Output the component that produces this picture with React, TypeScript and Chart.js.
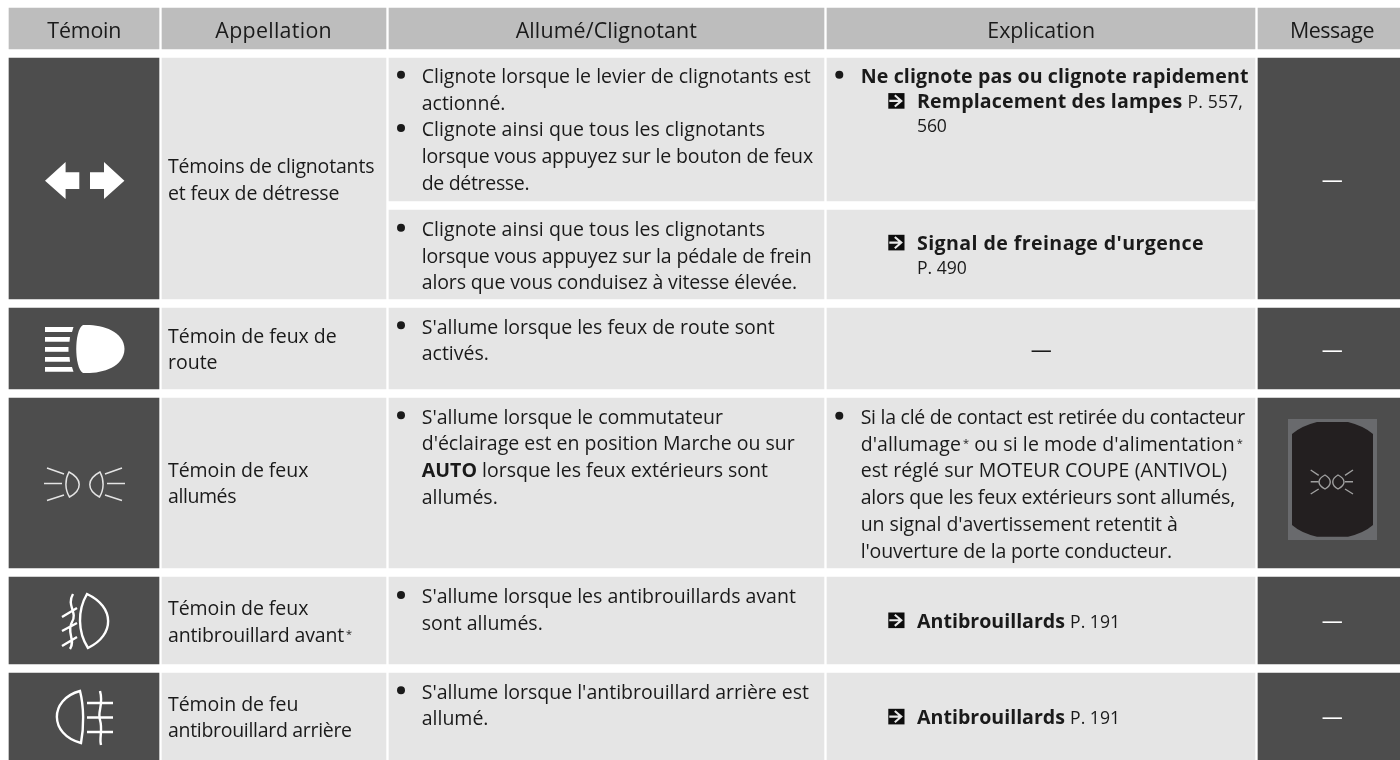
import React, { useEffect, useRef } from "react";
import { Chart, registerables } from "chart.js";

Chart.register(...registerables);

const FONT = '"Open Sans"';
const TEXT = "#1a1a1a";
const HEAD_BG = "#bdbdbd";
const LIGHT_BG = "#e5e5e5";
const DARK_BG = "#4d4d4d";

// Table content
const headers = ["Témoin", "Appellation", "Allumé/Clignotant", "Explication", "Message"];
const appellationTexts = [
  ["Témoins de clignotants", "et feux de détresse"],
  ["Témoin de feux de", "route"],
  ["Témoin de feux", "allumés"],
  ["Témoin de feux", "antibrouillard avant^*"],
  ["Témoin de feu", "antibrouillard arrière"],
];
const allumeTexts = [
  [["Clignote lorsque le levier de clignotants est", "actionné."], ["Clignote ainsi que tous les clignotants", "lorsque vous appuyez sur le bouton de feux", "de détresse."]],
  [["Clignote ainsi que tous les clignotants", "lorsque vous appuyez sur la pédale de frein", "alors que vous conduisez à vitesse élevée."]],
  [["S'allume lorsque les feux de route sont", "activés."]],
  [["S'allume lorsque le commutateur", "d'éclairage est en position Marche ou sur", "**AUTO** lorsque les feux extérieurs sont", "allumés."]],
  [["S'allume lorsque les antibrouillards avant", "sont allumés."]],
  [["S'allume lorsque l'antibrouillard arrière est", "allumé."]],
];
const explicationWarning = "**Ne clignote pas ou clignote rapidement**";
const explicationRefs = [
  ["**Remplacement des lampes** ~P. 557,~", "~560~"],
  ["**Signal de freinage d'urgence**", "~P. 490~"],
  ["**Antibrouillards** ~P. 191~"],
  ["**Antibrouillards** ~P. 191~"],
];
const explicationContact = [
  "Si la clé de contact est retirée du contacteur",
  "d'allumage^* ou si le mode d'alimentation^*",
  "est réglé sur MOTEUR COUPE (ANTIVOL)",
  "alors que les feux extérieurs sont allumés,",
  "un signal d'avertissement retentit à",
  "l'ouverture de la porte conducteur.",
];
const DASH = "—";

// Layout of the grid, in the 1400 x 760 axis units
const cols = [[9, 159], [162, 386], [389, 824], [827, 1255], [1258, 1400]];
const HEAD = [8, 49];
const R1 = [58, 299];
const R1A = [58, 201];
const R1B = [210, 299];
const R2 = [308, 389];
const R3 = [398, 568];
const R4 = [577, 664];
const R5 = [673, 760];
const NOTCH = [201, 210];

const cells: [number[], number[], string][] = [
  ...cols.map((c) => [c, HEAD, HEAD_BG] as [number[], number[], string]),
  ...[R1, R2, R3, R4, R5].flatMap((r) => [
    [cols[0], r, DARK_BG],
    [cols[1], r, LIGHT_BG],
    [cols[4], r, DARK_BG],
  ] as [number[], number[], string][]),
  [cols[2], R1A, LIGHT_BG], [cols[2], R1B, LIGHT_BG],
  [cols[3], R1A, LIGHT_BG], [cols[3], R1B, LIGHT_BG],
  ...[R2, R3, R4, R5].flatMap((r) => [
    [cols[2], r, LIGHT_BG],
    [cols[3], r, LIGHT_BG],
  ] as [number[], number[], string][]),
  [[1255, 1259], NOTCH, "#ffffff"],
];

const SIZE = 19.5;
const HEAD_SIZE = 21.4;
const BOLD = 19.6;
const SMALL = 17.6;
const LH = 26.7;

// Right edge of lines whose set width differs from the substitute font's
const lineEnds: Record<string, number> = {
  "Témoin": 121.3, "Appellation": 332, "Allumé/Clignotant": 697, "Explication": 1095, "Message": 1374,
  "Témoins de clignotants": 374.3, "et feux de détresse": 339.3, "Témoin de feux de": 336.7,
  "Témoin de feux": 308.3, "allumés": 236, "Témoin de feu": 298.3, "antibrouillard arrière": 351.7,
  "antibrouillard avant^*": 352,
  "Clignote lorsque le levier de clignotants est": 810.7,
  "Clignote ainsi que tous les clignotants": 765, "lorsque vous appuyez sur le bouton de feux": 813,
  "de détresse.": 529.3, "lorsque vous appuyez sur la pédale de frein": 811.5,
  "alors que vous conduisez à vitesse élevée.": 797,
  "Si la clé de contact est retirée du contacteur": 1245, "d'allumage^* ou si le mode d'alimentation^*": 1243,
  "est réglé sur MOTEUR COUPE (ANTIVOL)": 1227, "alors que les feux extérieurs sont allumés,": 1235,
  "un signal d'avertissement retentit à": 1177.7, "l'ouverture de la porte conducteur.": 1172,
  "**Ne clignote pas ou clignote rapidement**": 1248.5, "**Remplacement des lampes** ~P. 557,~": 1243,
  "**Signal de freinage d'urgence**": 1204, "**Antibrouillards** ~P. 191~": 1120,
  "~P. 490~": 966.7, "~560~": 946.7,
};

function parseRuns(str: string, size: number) {
  const re = /\*\*(.+?)\*\*|~(.+?)~|\^\*|([^*~^]+)/g;
  const runs: { text: string; font: string; dy: number; gap: number }[] = [];
  let m: RegExpExecArray | null;
  while ((m = re.exec(str))) {
    if (m[1]) runs.push({ text: m[1], font: `700 ${BOLD}px ${FONT}`, dy: 0, gap: 0 });
    else if (m[2]) runs.push({ text: m[2], font: `${SMALL}px ${FONT}`, dy: 0, gap: 0 });
    else if (m[0] === "^*") runs.push({ text: "*", font: `11px ${FONT}`, dy: -4, gap: 2 });
    else runs.push({ text: m[3], font: `${size}px ${FONT}`, dy: 0, gap: 0 });
  }
  return runs;
}

function drawRuns(ctx: CanvasRenderingContext2D, str: string, x: number, y: number, size = SIZE) {
  const runs = parseRuns(str, size);
  const c = ctx as any;
  c.letterSpacing = "0px";
  const end = lineEnds[str];
  if (end !== undefined) {
    let natural = 0;
    let count = 0;
    runs.forEach((r) => {
      ctx.font = r.font;
      natural += ctx.measureText(r.text).width + r.gap;
      count += r.text.length;
    });
    c.letterSpacing = `${(end - x - natural) / count}px`;
  }
  let cx = x;
  runs.forEach((r) => {
    ctx.font = r.font;
    cx += r.gap;
    ctx.fillText(r.text, cx, y + r.dy);
    cx += ctx.measureText(r.text).width;
  });
  c.letterSpacing = "0px";
}

function refIcon(ctx: CanvasRenderingContext2D, x: number, baseline: number) {
  ctx.fillStyle = "#0d0d0d";
  ctx.fillRect(x, baseline - 15.2, 16.2, 15.6);
  ctx.strokeStyle = "#e8e8e8";
  ctx.lineWidth = 2.1;
  ctx.beginPath();
  ctx.moveTo(x + 1, baseline - 7.4); ctx.lineTo(x + 12.5, baseline - 7.4);
  ctx.moveTo(x + 6.5, baseline - 13); ctx.lineTo(x + 13, baseline - 7.4); ctx.lineTo(x + 6.5, baseline - 1.8);
  ctx.stroke();
  ctx.fillStyle = TEXT;
}

function poly(ctx: CanvasRenderingContext2D, pts: number[][]) {
  ctx.beginPath();
  pts.forEach((p, i) => (i ? ctx.lineTo(p[0], p[1]) : ctx.moveTo(p[0], p[1])));
  ctx.closePath();
  ctx.fill();
}

function lens(ctx: CanvasRenderingContext2D, xTop: number, yTop: number, xBot: number, yBot: number, flatX: number, bulgeX: number, t = 0.28) {
  const h = yBot - yTop;
  ctx.beginPath();
  ctx.moveTo(xTop, yTop);
  ctx.bezierCurveTo(bulgeX, yTop + h * t, bulgeX, yBot - h * t, xBot, yBot);
  ctx.bezierCurveTo(flatX, yBot - h * 0.3, flatX, yTop + h * 0.3, xTop, yTop);
  ctx.closePath();
  ctx.stroke();
}

function drawIcons(ctx: CanvasRenderingContext2D) {
  ctx.save();
  ctx.fillStyle = "#fff";
  // turn arrows
  poly(ctx, [[45, 180.7], [65.6, 162], [65.6, 172.3], [79.3, 172.3], [79.3, 189], [65.6, 189], [65.6, 199]]);
  poly(ctx, [[124.4, 180.7], [104, 162], [104, 172.3], [90, 172.3], [90, 189], [104, 189], [104, 199]]);
  // high beam
  poly(ctx, [[45, 327], [73.5, 327], [72, 332], [45, 332]]);
  poly(ctx, [[45, 337], [70, 337], [69.5, 341.8], [45, 341.8]]);
  poly(ctx, [[45, 347], [68.5, 347], [68.5, 351.8], [45, 351.8]]);
  poly(ctx, [[45, 357], [69.5, 357], [70, 361.8], [45, 361.8]]);
  poly(ctx, [[45, 367], [72, 367], [73.5, 371.8], [45, 371.8]]);
  ctx.beginPath();
  ctx.moveTo(83, 325);
  ctx.bezierCurveTo(100, 324, 124, 330, 124.5, 349);
  ctx.bezierCurveTo(124, 368, 100, 374, 83, 373);
  ctx.bezierCurveTo(74, 368, 74, 330, 83, 325);
  ctx.closePath();
  ctx.fill();
  // position lights
  ctx.strokeStyle = "#e4e4e4";
  ctx.lineWidth = 1.5;
  lens(ctx, 69, 472, 69.5, 497, 64.8, 82.5);
  lens(ctx, 100, 472, 99.5, 497, 104.2, 86.5);
  ctx.beginPath();
  [[47, 468, 64, 474], [44, 483.5, 62, 483.5], [47, 500.5, 64, 495], [122, 468, 105, 474], [125, 483.5, 107, 483.5], [122, 500.5, 105, 495]].forEach((l) => {
    ctx.moveTo(l[0], l[1]); ctx.lineTo(l[2], l[3]);
  });
  ctx.stroke();
  // front fog
  ctx.strokeStyle = "#fff";
  ctx.lineWidth = 2.4;
  lens(ctx, 87, 594, 88, 648, 77.5, 115, 0.24);
  ctx.beginPath();
  ctx.moveTo(73, 594); ctx.bezierCurveTo(66, 606, 78, 612, 72, 622); ctx.bezierCurveTo(66, 632, 76, 640, 70, 649);
  [[62, 617, 77, 608], [62, 631, 77, 623], [62, 646, 77, 637]].forEach((l) => {
    ctx.moveTo(l[0], l[1]); ctx.lineTo(l[2], l[3]);
  });
  ctx.stroke();
  // rear fog
  lens(ctx, 80, 691, 81, 743, 84, 49, 0.16);
  ctx.beginPath();
  ctx.moveTo(100, 691); ctx.bezierCurveTo(104, 705, 97, 712, 100, 720); ctx.bezierCurveTo(103, 730, 99, 738, 101, 745);
  [[87, 703, 113, 703], [87, 717.5, 113, 717.5], [87, 732, 113, 732]].forEach((l) => {
    ctx.moveTo(l[0], l[1]); ctx.lineTo(l[2], l[3]);
  });
  ctx.stroke();
  // message image
  ctx.fillStyle = "#696a6d";
  ctx.fillRect(1288, 419, 89, 121);
  ctx.fillStyle = "#231f20";
  ctx.beginPath();
  ctx.moveTo(1317, 422); ctx.lineTo(1348, 422);
  ctx.quadraticCurveTo(1364, 426, 1373, 434);
  ctx.lineTo(1373, 525);
  ctx.quadraticCurveTo(1364, 533, 1348, 536.7);
  ctx.lineTo(1317, 536.7);
  ctx.quadraticCurveTo(1301, 533, 1292, 525);
  ctx.lineTo(1292, 434);
  ctx.quadraticCurveTo(1301, 426, 1317, 422);
  ctx.closePath();
  ctx.fill();
  ctx.strokeStyle = "#a0a0a0";
  ctx.lineWidth = 1.4;
  lens(ctx, 1325, 475, 1325, 489, 1317, 1332);
  lens(ctx, 1338, 475, 1338, 489, 1346, 1331);
  ctx.beginPath();
  [[1310.7, 470, 1318.7, 475.3], [1310.7, 481.7, 1318.7, 481.7], [1310.7, 494, 1318.7, 489], [1353, 470, 1345, 475.3], [1353, 481.7, 1345, 481.7], [1353, 494, 1345, 489]].forEach((l) => {
    ctx.moveTo(l[0], l[1]); ctx.lineTo(l[2], l[3]);
  });
  ctx.stroke();
  ctx.restore();
}

const tableText = {
  id: "tableText",
  afterDatasetsDraw(chart: any) {
    const ctx: CanvasRenderingContext2D = chart.ctx;
    ctx.save();
    drawIcons(ctx);
    ctx.textBaseline = "alphabetic";
    ctx.textAlign = "left";
    ctx.fillStyle = TEXT;
    // headers
    const headX = [47.3, 215.3, 515.7, 987.3, 1290];
    headers.forEach((h, i) => drawRuns(ctx, h, headX[i], 38, HEAD_SIZE));

    const block = (lines: string[], x: number, y: number) =>
      lines.forEach((l, i) => drawRuns(ctx, l, x, y + i * LH));
    const bullet = (x: number, baseline: number) => {
      ctx.beginPath();
      ctx.arc(x, baseline - 8.3, 4, 0, Math.PI * 2);
      ctx.fill();
    };

    // Appellation
    const appY = [173.3, 342.7, 476.7, 615, 710.7];
    appellationTexts.forEach((lines, i) => block(lines, 168, appY[i]));

    // Allumé/Clignotant
    const allY = [[83, 136.4], [236], [333.5], [423.5], [603.3], [698.5]];
    allumeTexts.forEach((groups, i) =>
      groups.forEach((lines, j) => {
        bullet(401, allY[i][j]);
        block(lines, 421.7, allY[i][j]);
      })
    );

    // Explication
    bullet(839.3, 83);
    drawRuns(ctx, explicationWarning, 860.7, 83);
    const refY = [108.3, 250, 627.7, 724];
    const refLH = [23.4, 24, 0, 0];
    explicationRefs.forEach((lines, i) => {
      refIcon(ctx, 888.3, refY[i]);
      lines.forEach((l, k) => drawRuns(ctx, l, 917, refY[i] + k * refLH[i]));
    });
    bullet(839.3, 424);
    block(explicationContact, 860.7, 424);

    // Dashes
    ctx.textAlign = "center";
    ctx.font = `21px ${FONT}`;
    ctx.fillText(DASH, 1041.3, 357);
    ctx.fillStyle = "#ffffff";
    [187, 357, 628, 724].forEach((y) => ctx.fillText(DASH, 1332.3, y));
    ctx.restore();
  },
};

export default function App() {
  const ref = useRef<HTMLCanvasElement>(null);
  useEffect(() => {
    const datasets = cells.map(([c, r, color]) => ({
      data: [{ x: c, y: (r[0] + r[1]) / 2 }],
      backgroundColor: color,
      barThickness: r[1] - r[0],
      grouped: false,
      borderWidth: 0,
    }));
    const chart = new Chart(ref.current!, {
      type: "bar",
      data: { datasets: datasets as any },
      options: {
        indexAxis: "y",
        animation: false,
        responsive: false,
        layout: { padding: 0 },
        events: [],
        plugins: { legend: { display: false }, tooltip: { enabled: false }, title: { display: false } },
        scales: {
          x: { type: "linear", min: 0, max: 1400, display: false, offset: false },
          y: { type: "linear", min: 0, max: 760, reverse: true, display: false, offset: false },
        },
      },
      plugins: [tableText],
    } as any);
    return () => chart.destroy();
  }, []);
  return (
    <div style={{ position: "absolute", left: 0, top: 0, width: 1400, height: 760, background: "#fff", overflow: "hidden" }}>
      <canvas ref={ref} width={1400} height={760} style={{ display: "block" }} />
    </div>
  );
}
